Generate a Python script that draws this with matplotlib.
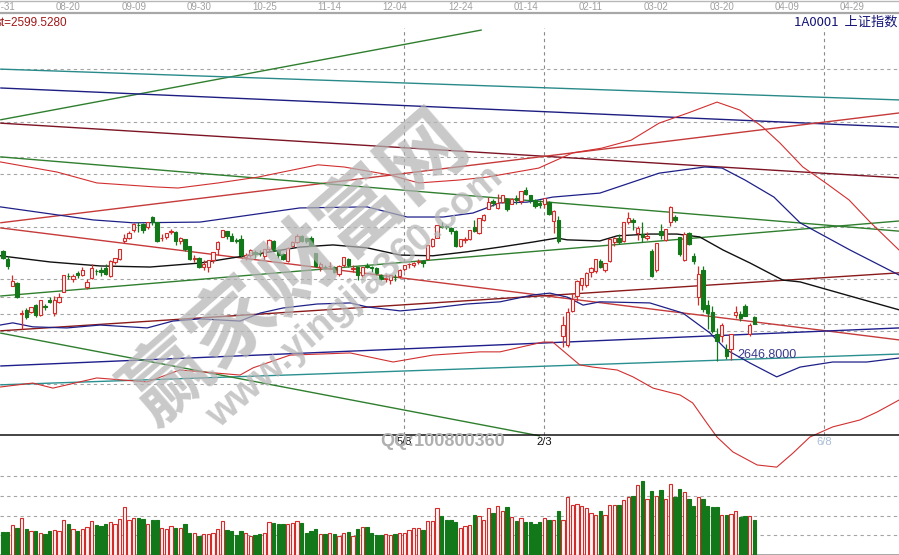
import matplotlib
matplotlib.use('Agg')
import matplotlib.pyplot as plt
from matplotlib.lines import Line2D
from matplotlib.transforms import blended_transform_factory

plt.rcParams['font.family'] = ['Liberation Sans', 'Noto Sans CJK SC', 'DejaVu Sans']

W, H = 899, 555

# daily bars of the index, 2019-07-31 .. 2020-03-31
opens = [2949, 2927, 2855, 2862, 2776, 2788, 2782, 2801, 2774, 2798,
         2815, 2778, 2810, 2838, 2881, 2872, 2890, 2883, 2851, 2875,
         2896, 2897, 2904, 2881, 2919, 2928, 2977, 2986, 3007, 3023,
         3026, 3017, 3044, 3029, 2986, 2990, 3003, 3004, 2978, 2982,
         2964, 2928, 2930, 2905, 2907, 2925, 2956, 2990, 3005, 2991,
         2980, 2982, 2935, 2940, 2948, 2942, 2936, 2955, 2978, 2952,
         2942, 2924, 2963, 2976, 2992, 2985, 2986, 2944, 2905, 2906,
         2909, 2907, 2886, 2912, 2927, 2900, 2905, 2884, 2909, 2905,
         2902, 2885, 2873, 2870, 2879, 2881, 2900, 2913, 2911, 2920,
         2923, 2929, 2965, 2986, 3020, 3019, 3014, 3006, 2964, 2981,
         2982, 3016, 3001, 3037, 3066, 3089, 3070, 3086, 3095, 3081,
         3096, 3087, 3118, 3104, 3092, 3082, 3079, 3085, 3032, 3037,
         2717, 2690, 2784, 2825, 2856, 2857, 2891, 2896, 2922, 2899,
         2924, 2976, 2985, 2979, 3031, 3037, 3000, 2996, 2985, 2950,
         2899, 3006, 2981, 3029, 3045, 2988, 2925, 3001, 2936, 2823,
         2899, 2800, 2782, 2720, 2716, 2680, 2679, 2775, 2777, 2798,
         2722, 2767]
highs = [2952, 2937, 2883, 2865, 2787, 2792, 2797, 2804, 2816, 2803,
         2823, 2825, 2834, 2884, 2889, 2886, 2896, 2906, 2872, 2915,
         2901, 2906, 2914, 2925, 2931, 2957, 2996, 3006, 3027, 3029,
         3027, 3031, 3046, 3030, 2997, 3000, 3011, 3005, 2990, 2983,
         2965, 2940, 2934, 2926, 2925, 2948, 2979, 3008, 3006, 3001,
         2986, 2993, 2944, 2957, 2954, 2953, 2957, 2982, 2980, 2955,
         2946, 2960, 2978, 2996, 2994, 2986, 2991, 2946, 2920, 2912,
         2919, 2910, 2912, 2934, 2930, 2911, 2907, 2907, 2918, 2910,
         2906, 2888, 2887, 2885, 2887, 2901, 2912, 2918, 2920, 2927,
         2925, 2968, 2985, 3023, 3029, 3023, 3017, 3008, 2984, 2990,
         3007, 3037, 3041, 3051, 3098, 3094, 3107, 3106, 3095, 3097,
         3105, 3116, 3127, 3105, 3093, 3091, 3097, 3087, 3064, 3046,
         2772, 2792, 2833, 2869, 2876, 2891, 2907, 2927, 2929, 2918,
         2984, 2990, 2998, 3031, 3058, 3041, 3018, 3029, 3003, 2957,
         2971, 3026, 3012, 3074, 3049, 2990, 3002, 3003, 2945, 2910,
         2910, 2815, 2798, 2738, 2752, 2693, 2722, 2798, 2785, 2803,
         2752, 2771]
lows = [2929, 2901, 2855, 2820, 2734, 2764, 2780, 2769, 2770, 2788,
        2806, 2770, 2808, 2836, 2873, 2866, 2876, 2880, 2846, 2874,
        2884, 2881, 2885, 2879, 2914, 2926, 2972, 2984, 3003, 3003,
        2999, 3012, 3022, 2975, 2979, 2982, 2997, 2968, 2970, 2949,
        2926, 2920, 2904, 2898, 2891, 2918, 2940, 2989, 2983, 2977,
        2971, 2935, 2925, 2935, 2931, 2936, 2925, 2950, 2950, 2932,
        2925, 2920, 2962, 2973, 2976, 2971, 2963, 2906, 2896, 2901,
        2900, 2890, 2882, 2905, 2906, 2893, 2870, 2878, 2902, 2893,
        2884, 2869, 2866, 2860, 2868, 2876, 2894, 2903, 2906, 2915,
        2907, 2929, 2960, 2986, 3013, 3011, 2996, 2960, 2962, 2973,
        2980, 3003, 2997, 3032, 3066, 3074, 3065, 3082, 3060, 3080,
        3081, 3081, 3105, 3083, 3070, 3070, 3069, 3050, 3001, 2971,
        2685, 2685, 2783, 2812, 2842, 2852, 2879, 2890, 2902, 2891,
        2921, 2964, 2969, 2975, 3025, 3009, 2980, 2976, 2980, 2879,
        2892, 2982, 2979, 3019, 3030, 2937, 2922, 2967, 2914, 2802,
        2781, 2735, 2724, 2646.8, 2699, 2653, 2650, 2765, 2758, 2770,
        2716, 2748]
closes = [2932, 2909, 2868, 2822, 2778, 2769, 2795, 2775, 2815, 2797,
          2809, 2816, 2824, 2883, 2880, 2880, 2883, 2897, 2864, 2902,
          2894, 2891, 2886, 2924, 2930, 2957, 2986, 3000, 3025, 3021,
          3009, 3031, 3031, 2978, 2986, 2999, 3006, 2977, 2985, 2955,
          2929, 2932, 2905, 2914, 2925, 2948, 2974, 3008, 2991, 2979,
          2977, 2938, 2940, 2954, 2942, 2941, 2955, 2980, 2954, 2939,
          2929, 2958, 2975, 2992, 2979, 2979, 2964, 2910, 2915, 2905,
          2910, 2891, 2909, 2934, 2911, 2904, 2885, 2906, 2907, 2903,
          2890, 2872, 2876, 2885, 2878, 2899, 2912, 2914, 2917, 2924,
          2916, 2968, 2984, 3022, 3017, 3017, 3005, 2963, 2983, 2982,
          3007, 3005, 3040, 3050, 3085, 3084, 3083, 3105, 3067, 3095,
          3092, 3116, 3107, 3090, 3074, 3076, 3096, 3052, 3061, 2977,
          2747, 2783, 2818, 2867, 2876, 2890, 2902, 2927, 2906, 2917,
          2984, 2985, 2975, 3030, 3040, 3031, 3013, 2988, 2992, 2880,
          2971, 2993, 3012, 3072, 3035, 2943, 2997, 2969, 2923, 2887,
          2789, 2780, 2729, 2702, 2746, 2660, 2722, 2782, 2765, 2772,
          2747, 2750]
volumes = [117, 117, 152, 137, 186, 132, 122, 122, 110, 107,
           122, 127, 122, 178, 157, 132, 122, 132, 142, 173,
           152, 147, 157, 168, 157, 183, 244, 178, 188, 188,
           181, 156, 176, 176, 136, 132, 147, 136, 136, 157,
           110, 112, 98, 105, 105, 110, 131, 173, 127, 122,
           102, 122, 110, 97, 102, 105, 110, 166, 163, 157,
           157, 157, 163, 171, 163, 110, 122, 132, 105, 105,
           110, 105, 98, 110, 115, 98, 132, 142, 141, 110,
           102, 102, 105, 102, 107, 113, 110, 129, 139, 136,
           127, 173, 173, 237, 198, 178, 178, 166, 136, 147,
           152, 203, 200, 178, 237, 212, 250, 224, 242, 195,
           173, 186, 169, 166, 156, 169, 189, 179, 178, 224,
           178, 293, 254, 258, 249, 237, 215, 203, 224, 203,
           254, 254, 254, 279, 293, 300, 356, 376, 284, 325,
           300, 330, 284, 361, 293, 335, 320, 284, 249, 293,
           284, 249, 242, 242, 203, 203, 207, 224, 195, 198,
           198, 178]

# header dates, every 14th bar
date_ticks = [0, 14, 28, 42, 56, 70, 84, 98, 112, 126, 140, 154, 168, 182]
date_labels = ['07-31', '08-20', '09-09', '09-30', '10-25', '11-14', '12-04',
               '12-24', '01-14', '02-11', '03-02', '03-20', '04-09', '04-29']

# time-cycle markers
cycle_idx = [86, 116, 176]
cycle_labels = ['5/8', '2/3', '6/8']

price_levels = [3452, 3306, 3210, 3163, 3016, 2873, 2823, 2777, 2730, 2583]
vol_levels = [100, 200, 300, 400]

# trend lines: ([start bar, end bar], [start price, end price])
tl_green_steep = ([-0.6, 102.6], [3312, 3560])
tl_teal_top = ([-0.6, 192.0], [3452, 3367])
tl_navy_top = ([-0.6, 192.0], [3400, 3292])
tl_maroon_top = ([-0.6, 192.0], [3303, 3152])
tl_red_rise = ([-0.6, 192.0], [3028, 3331])
tl_green_fall = ([-0.6, 192.0], [3210, 3005])
tl_green_rise = ([-0.6, 192.0], [2826, 3033])
tl_red_fall = ([-0.6, 192.0], [3014, 2705])
tl_maroon_rise = ([-0.6, 192.0], [2730, 2890])
tl_navy_low = ([-0.6, 192.0], [2633, 2738])
tl_teal_low = ([-0.6, 192.0], [2581, 2666])
tl_green_low = ([-0.6, 115.1], [2724, 2440])

# band curves
red_upper_idx = [-0.6, 11.6, 20.1, 32.6, 37.5, 46.1, 54.6, 67.5, 73.1, 82.9,
                 89.1, 97.7, 103.7, 114.8, 117.2, 122.1, 128.3, 134.6, 140.6, 146.8,
                 153.0, 157.9, 162.8, 166.5, 171.4, 176.3, 181.3, 185.8, 192.0]
red_upper_val = [3196, 3168, 3138, 3127, 3124, 3138, 3154, 3188, 3182, 3160,
                 3138, 3146, 3154, 3179, 3193, 3221, 3234, 3256, 3303, 3331,
                 3361, 3339, 3292, 3248, 3182, 3138, 3091, 3030, 2953]
red_lower_idx = [-0.6, 6.4, 10.7, 20.1, 30.9, 37.9, 50.8, 53.6, 61.5, 74.4,
                 83.6, 92.1, 102.2, 106.5, 115.7, 117.8, 123.6, 126.4, 131.6, 135.0,
                 139.3, 145.1, 147.8, 150.8, 153.0, 156.4, 161.6, 165.8, 169.3, 172.9,
                 177.8, 183.6, 187.3, 192.0]
red_lower_val = [2575, 2586, 2572, 2600, 2589, 2622, 2608, 2628, 2663, 2669,
                 2644, 2663, 2672, 2672, 2699, 2699, 2636, 2630, 2622, 2603,
                 2572, 2553, 2531, 2476, 2437, 2396, 2360, 2354, 2393, 2437,
                 2465, 2484, 2506, 2539]
navy_upper_idx = [-0.6, 19.3, 27.9, 42.2, 63.6, 78.0, 86.6, 94.3, 100.7, 106.5,
                  112.3, 117.8, 127.9, 140.6, 150.4, 154.1, 159.0, 165.2, 170.8, 181.5,
                  192.0]
navy_upper_val = [3072, 3036, 3028, 3030, 3069, 3072, 3044, 3044, 3055, 3083,
                  3085, 3099, 3110, 3165, 3182, 3179, 3146, 3099, 3028, 2953,
                  2884]
navy_lower_idx = [-0.6, 2.1, 6.4, 13.7, 20.8, 30.9, 36.4, 42.2, 50.8, 55.1,
                  60.0, 67.3, 74.4, 78.0, 85.1, 92.1, 99.4, 106.5, 113.6, 117.2,
                  120.9, 124.3, 127.9, 138.6, 145.7, 151.5, 155.1, 160.1, 165.8, 170.8,
                  177.8, 185.1, 192.0]
navy_lower_val = [2746, 2752, 2741, 2738, 2746, 2738, 2757, 2763, 2757, 2779,
                  2793, 2804, 2807, 2796, 2785, 2793, 2804, 2810, 2829, 2834,
                  2823, 2801, 2810, 2807, 2779, 2724, 2677, 2641, 2603, 2630,
                  2644, 2644, 2655]
ma_idx = [-0.6, 10.1, 20.8, 31.5, 42.2, 52.9, 63.6, 70.7, 78.0, 85.1,
          92.1, 99.4, 106.5, 113.6, 118.7, 120.9, 127.9, 131.6, 138.6, 144.4,
          149.3, 154.3, 160.1, 167.1, 170.8, 181.5, 192.0]
ma_val = [2937, 2920, 2909, 2906, 2917, 2939, 2961, 2967, 2959, 2939,
          2937, 2948, 2961, 2975, 2986, 2981, 2978, 2992, 2997, 2997,
          2989, 2953, 2917, 2870, 2865, 2826, 2788]

UP = '#d42b2b'
UP_FILL = '#fff6f6'
DOWN = '#13781a'
GRID = '#a4a4a4'
MARK = '#b4b4b4'


def fy(row):
    # pixel row from the top -> figure fraction
    return 1 - row / H


fig = plt.figure(figsize=(W / 100, H / 100), dpi=100)
fig.patch.set_facecolor('white')

ax = fig.add_axes([0, 0, 1, fy(13)])
ax.set_xlim(-0.643, 192.0)
ax.set_ylim(2111.6, 3606.8)
ax.axis('off')

axv = fig.add_axes([0, 0, 1, 100 / H])
axv.set_xlim(-0.643, 192.0)
axv.set_ylim(0, 507.6)
axv.axis('off')
axv.patch.set_alpha(0)

# dashed price levels
for lvl in price_levels:
    ax.axhline(lvl, color=GRID, lw=0.8, ls=(0, (3, 3)), zorder=1)
for lvl in vol_levels:
    axv.axhline(lvl, color=GRID, lw=0.8, ls=(0, (3, 3)), zorder=1)
axv.axhline(0, color='#9a9a9a', lw=1.2, zorder=1)

# vertical cycle lines
ax.vlines(cycle_idx, 2443, 3565, colors='#8a8a8a', lw=0.8, ls=(0, (3, 3)), zorder=1)

# trend lines
trend_styles = [
    (tl_green_steep, '#2f7f2f'),
    (tl_teal_top, '#2a8a8a'),
    (tl_navy_top, '#1e1e82'),
    (tl_maroon_top, '#7c1424'),
    (tl_red_rise, '#c63a3a'),
    (tl_green_fall, '#2f7f2f'),
    (tl_green_rise, '#2f7f2f'),
    (tl_red_fall, '#c63a3a'),
    (tl_maroon_rise, '#8b1a1a'),
    (tl_navy_low, '#1e1e8c'),
    (tl_teal_low, '#2a8f8f'),
    (tl_green_low, '#2f7f2f'),
]
for (xs, ys), col in trend_styles:
    ax.plot(xs, ys, color=col, lw=1.0, zorder=2, solid_capstyle='butt')

# bands and average
ax.plot(red_upper_idx, red_upper_val, color='#d23030', lw=0.8, zorder=3)
ax.plot(red_lower_idx, red_lower_val, color='#d23030', lw=0.8, zorder=3)
ax.plot(navy_upper_idx, navy_upper_val, color='#1e2088', lw=0.9, zorder=3)
ax.plot(navy_lower_idx, navy_lower_val, color='#1e2088', lw=0.9, zorder=3)
ax.plot(ma_idx, ma_val, color='#111111', lw=1.0, zorder=3)

# candles
n = len(closes)
idx = list(range(n))
up = [c >= o for o, c in zip(opens, closes)]
for i in idx:
    col = UP if up[i] else DOWN
    ax.vlines(i, lows[i], highs[i], color=col, lw=0.9, zorder=5)
    lo, hi = min(opens[i], closes[i]), max(opens[i], closes[i])
    ax.bar(i, max(hi - lo, 0.4), bottom=lo, width=0.72,
           facecolor=UP_FILL if up[i] else DOWN, edgecolor=col, lw=0.8, zorder=6)

# last price line
ax.hlines(closes[-1], n - 1, 192.0, colors=GRID, lw=0.8, ls=(0, (3, 3)), zorder=1)

# lowest low label
i_low = lows.index(min(lows))
ax.text(i_low + 4.3, lows[i_low] + 17, f'{lows[i_low]:.4f}', color='#3a3a8c',
        fontsize=9, va='center', ha='left', zorder=7)

# volume bars
for i in idx:
    col = UP if up[i] else DOWN
    axv.bar(i, volumes[i], width=0.72, facecolor=UP_FILL if up[i] else DOWN,
            edgecolor=col, lw=0.8, zorder=3)

# header strip
fig.add_artist(Line2D([0, 1], [fy(13), fy(13)], color='#a8a8a8', lw=1.6))
fig.add_artist(Line2D([0, 1], [fy(0.6), fy(0.6)], color='#b8b8b8', lw=1.0))
hdr = blended_transform_factory(ax.transData, fig.transFigure)
for t, lab in zip(date_ticks, date_labels):
    ax.text(t, fy(7), lab, transform=hdr, ha='center', va='center',
            fontsize=7, color='#a0a0a0', clip_on=False)

fig.text(-4 / W, fy(23), 'st=2599.5280', color='#a01818', fontsize=8.5,
         ha='left', va='center')
fig.text(898 / W, fy(22), '1A0001  上证指数', color='#141478', fontsize=9.5,
         ha='right', va='center', family=['Noto Sans CJK SC', 'DejaVu Sans'])

# separator between price and volume panes
fig.add_artist(Line2D([0, 1], [fy(435), fy(435)], color='#111111', lw=1.1))

cyc_colors = ['#111111', '#111111', '#a9bdd2']
for t, lab, c in zip(cycle_idx, cycle_labels, cyc_colors):
    ax.text(t, fy(442), lab, transform=hdr, ha='center', va='center',
            fontsize=8, color=c, clip_on=False, zorder=11)

# site watermark
fig.text(297 / W, fy(268), '赢家财富网', rotation=41, fontsize=61,
         fontweight='bold', color=MARK, alpha=0.72, ha='center', va='center',
         family=['Noto Sans CJK SC', 'DejaVu Sans'], zorder=10)
fig.text(355 / W, fy(297), 'www.yingjia360.com', rotation=41, fontsize=28,
         fontweight='bold', color=MARK, alpha=0.72, ha='center', va='center',
         zorder=10)
fig.text(380 / W, fy(442), 'QQ:100800360', fontsize=13, fontweight='bold',
         color='#b0b0b0', ha='left', va='center', zorder=9)

fig.savefig('out.png', dpi=100, facecolor='white')
